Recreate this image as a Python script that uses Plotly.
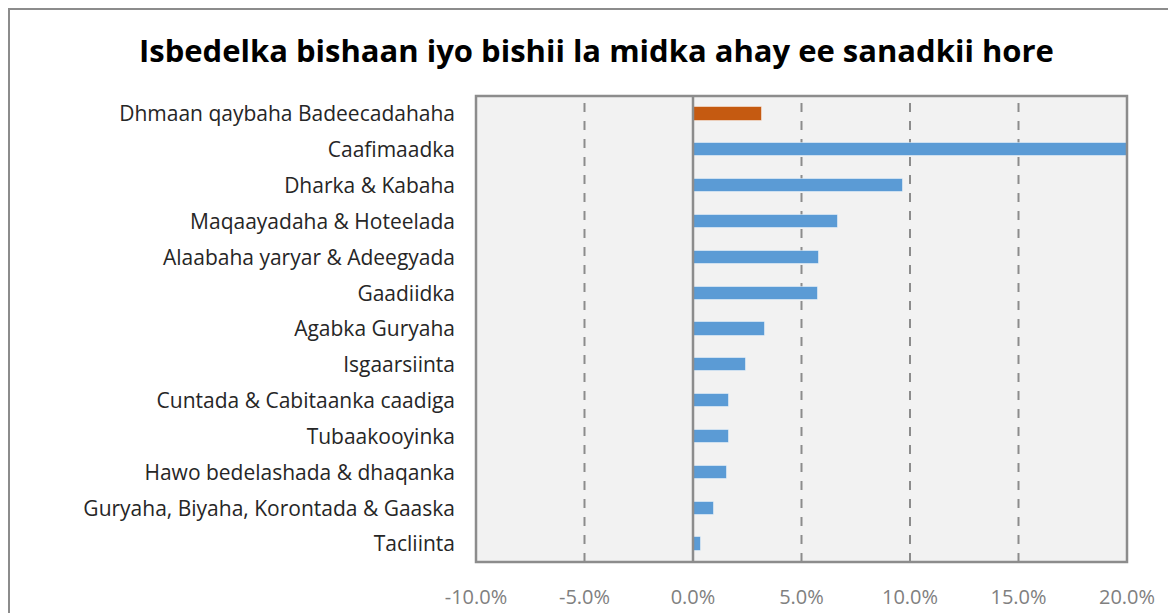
import plotly.graph_objects as go

categories = [
    "Dhmaan qaybaha Badeecadahaha",
    "Caafimaadka",
    "Dharka & Kabaha",
    "Maqaayadaha & Hoteelada",
    "Alaabaha yaryar & Adeegyada",
    "Gaadiidka",
    "Agabka Guryaha",
    "Isgaarsiinta",
    "Cuntada & Cabitaanka caadiga",
    "Tubaakooyinka",
    "Hawo bedelashada & dhaqanka",
    "Guryaha, Biyaha, Korontada & Gaaska",
    "Tacliinta",
]
values = [3.2, 20.3, 9.7, 6.7, 5.8, 5.75, 3.3, 2.45, 1.65, 1.65, 1.55, 0.95, 0.37]
colors = ["#C55A11"] + ["#5B9BD5"] * 12
tick_vals = [-10, -5, 0, 5, 10, 15, 20]
tick_text = ["-10.0%", "-5.0%", "0.0%", "5.0%", "10.0%", "15.0%", "20.0%"]
title_text = "Isbedelka bishaan iyo bishii la midka ahay ee sanadkii hore"

OFF = 8  # page body margin offset
W, H = 1176 - OFF, 613 - OFF
L, R, T, B = 476 - OFF, 1127 - OFF, 96 - OFF, 562 - OFF
pw, ph = R - L, B - T

def px(x):
    return (x - OFF - L) / pw

def py(y):
    return (B - (y - OFF)) / ph

fig = go.Figure()
fig.add_trace(go.Bar(
    x=values, y=categories, orientation="h",
    marker=dict(color=colors, line=dict(color="rgba(255,255,255,0.45)", width=1)),
    width=0.37,
))

shapes = []
for v in [-5, 5, 10, 15]:
    shapes.append(dict(type="line", xref="x", yref="paper", x0=v, x1=v, y0=0, y1=1,
                       line=dict(color="#8C8C8C", width=2, dash="dash"), layer="below"))
shapes.append(dict(type="line", xref="x", yref="paper", x0=0, x1=0, y0=0, y1=1,
                   line=dict(color="#8C8C8C", width=2.5), layer="above"))
shapes.append(dict(type="rect", xref="paper", yref="paper", x0=0, x1=1, y0=0, y1=1,
                   line=dict(color="#8C8C8C", width=2.5), layer="above"))
# outer chart frame (left and top edges visible)
shapes.append(dict(type="rect", xref="paper", yref="paper",
                   x0=px(9), x1=px(1250), y0=py(680), y1=py(9),
                   line=dict(color="#8C8C8C", width=2)))

fig.update_layout(
    width=W, height=H,
    margin=dict(l=L, r=W - R, t=T, b=H - B, autoexpand=False),
    paper_bgcolor="white",
    plot_bgcolor="#F2F2F2",
    showlegend=False,
    bargap=0,
    font=dict(family="Open Sans, sans-serif", color="#404040"),
    annotations=[dict(text="<b>" + title_text + "</b>", xref="paper", yref="paper",
                      x=px(596), y=py(50), xanchor="center", yanchor="middle",
                      showarrow=False, font=dict(size=31, color="#000000"))],
    shapes=shapes,
    xaxis=dict(range=[-10, 20], tickvals=tick_vals, ticktext=tick_text,
               showgrid=False, zeroline=False, showline=False, ticks="",
               tickfont=dict(size=20, color="#808080"), ticklabelstandoff=21,
               fixedrange=True),
    yaxis=dict(autorange="reversed", showgrid=False, zeroline=False, showline=False,
               ticks="", tickfont=dict(size=21, color="#262626"),
               ticklabelstandoff=20),
)

fig.write_html("out.html")
